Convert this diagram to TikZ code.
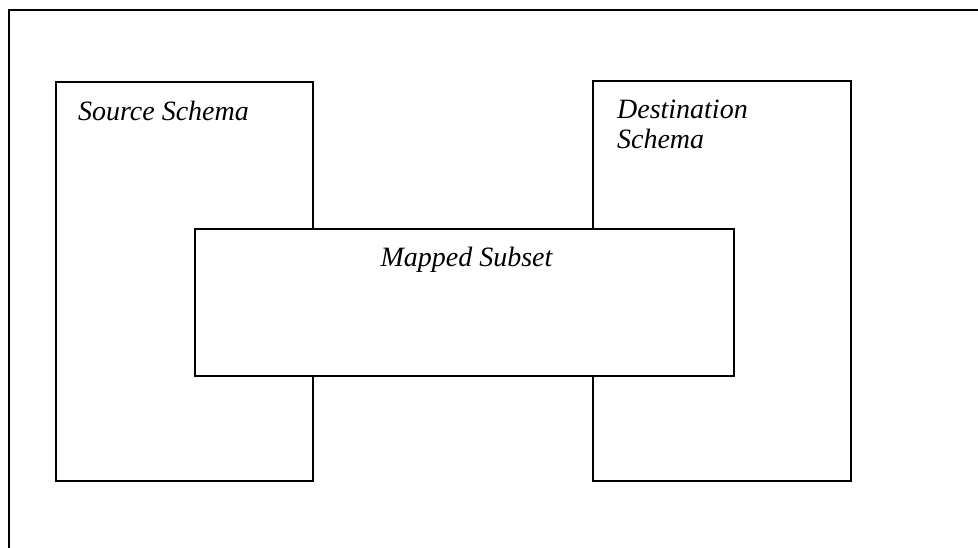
\documentclass[tikz,border=0pt]{standalone}
\usepackage{fontspec}
\setmainfont{Liberation Serif}
\usetikzlibrary{calc}

\tikzset{
  schemabox/.style={draw=black, line width=2.2pt, rectangle, inner sep=0pt, fill=white},
  schematext/.style={font=\fontsize{28}{30}\selectfont\itshape, inner sep=0pt, align=left}
}

\begin{document}
\begin{tikzpicture}[x=1pt, y=-1pt]
\useasboundingbox (0,0) rectangle (978,548);
\clip (0,0) rectangle (978,548);
% outer frame, runs off the page at right and bottom
\draw[line width=2pt] (8.5,600) -- (8.5,10.5) -- (1000,10.5);
\node[schemabox, minimum width=257pt, minimum height=399pt] (src) at (184.5,281.5) {};
\node[schemabox, minimum width=258pt, minimum height=400pt] (dst) at (722,281) {};
\node[schemabox, minimum width=539pt, minimum height=147pt] (map) at (464.5,302.5) {};
\node[schematext, anchor=base west] (srclbl) at ($(src.north west)+(23,40)$) {Source Schema};
\node[schematext, anchor=north west] (dstlbl) at ($(dst.north west)+(25,20)$) {Destination\\Schema};
\node[schematext, anchor=base] (maplbl) at ($(map.north)+(2,39)$) {Mapped Subset};
\end{tikzpicture}
\end{document}
